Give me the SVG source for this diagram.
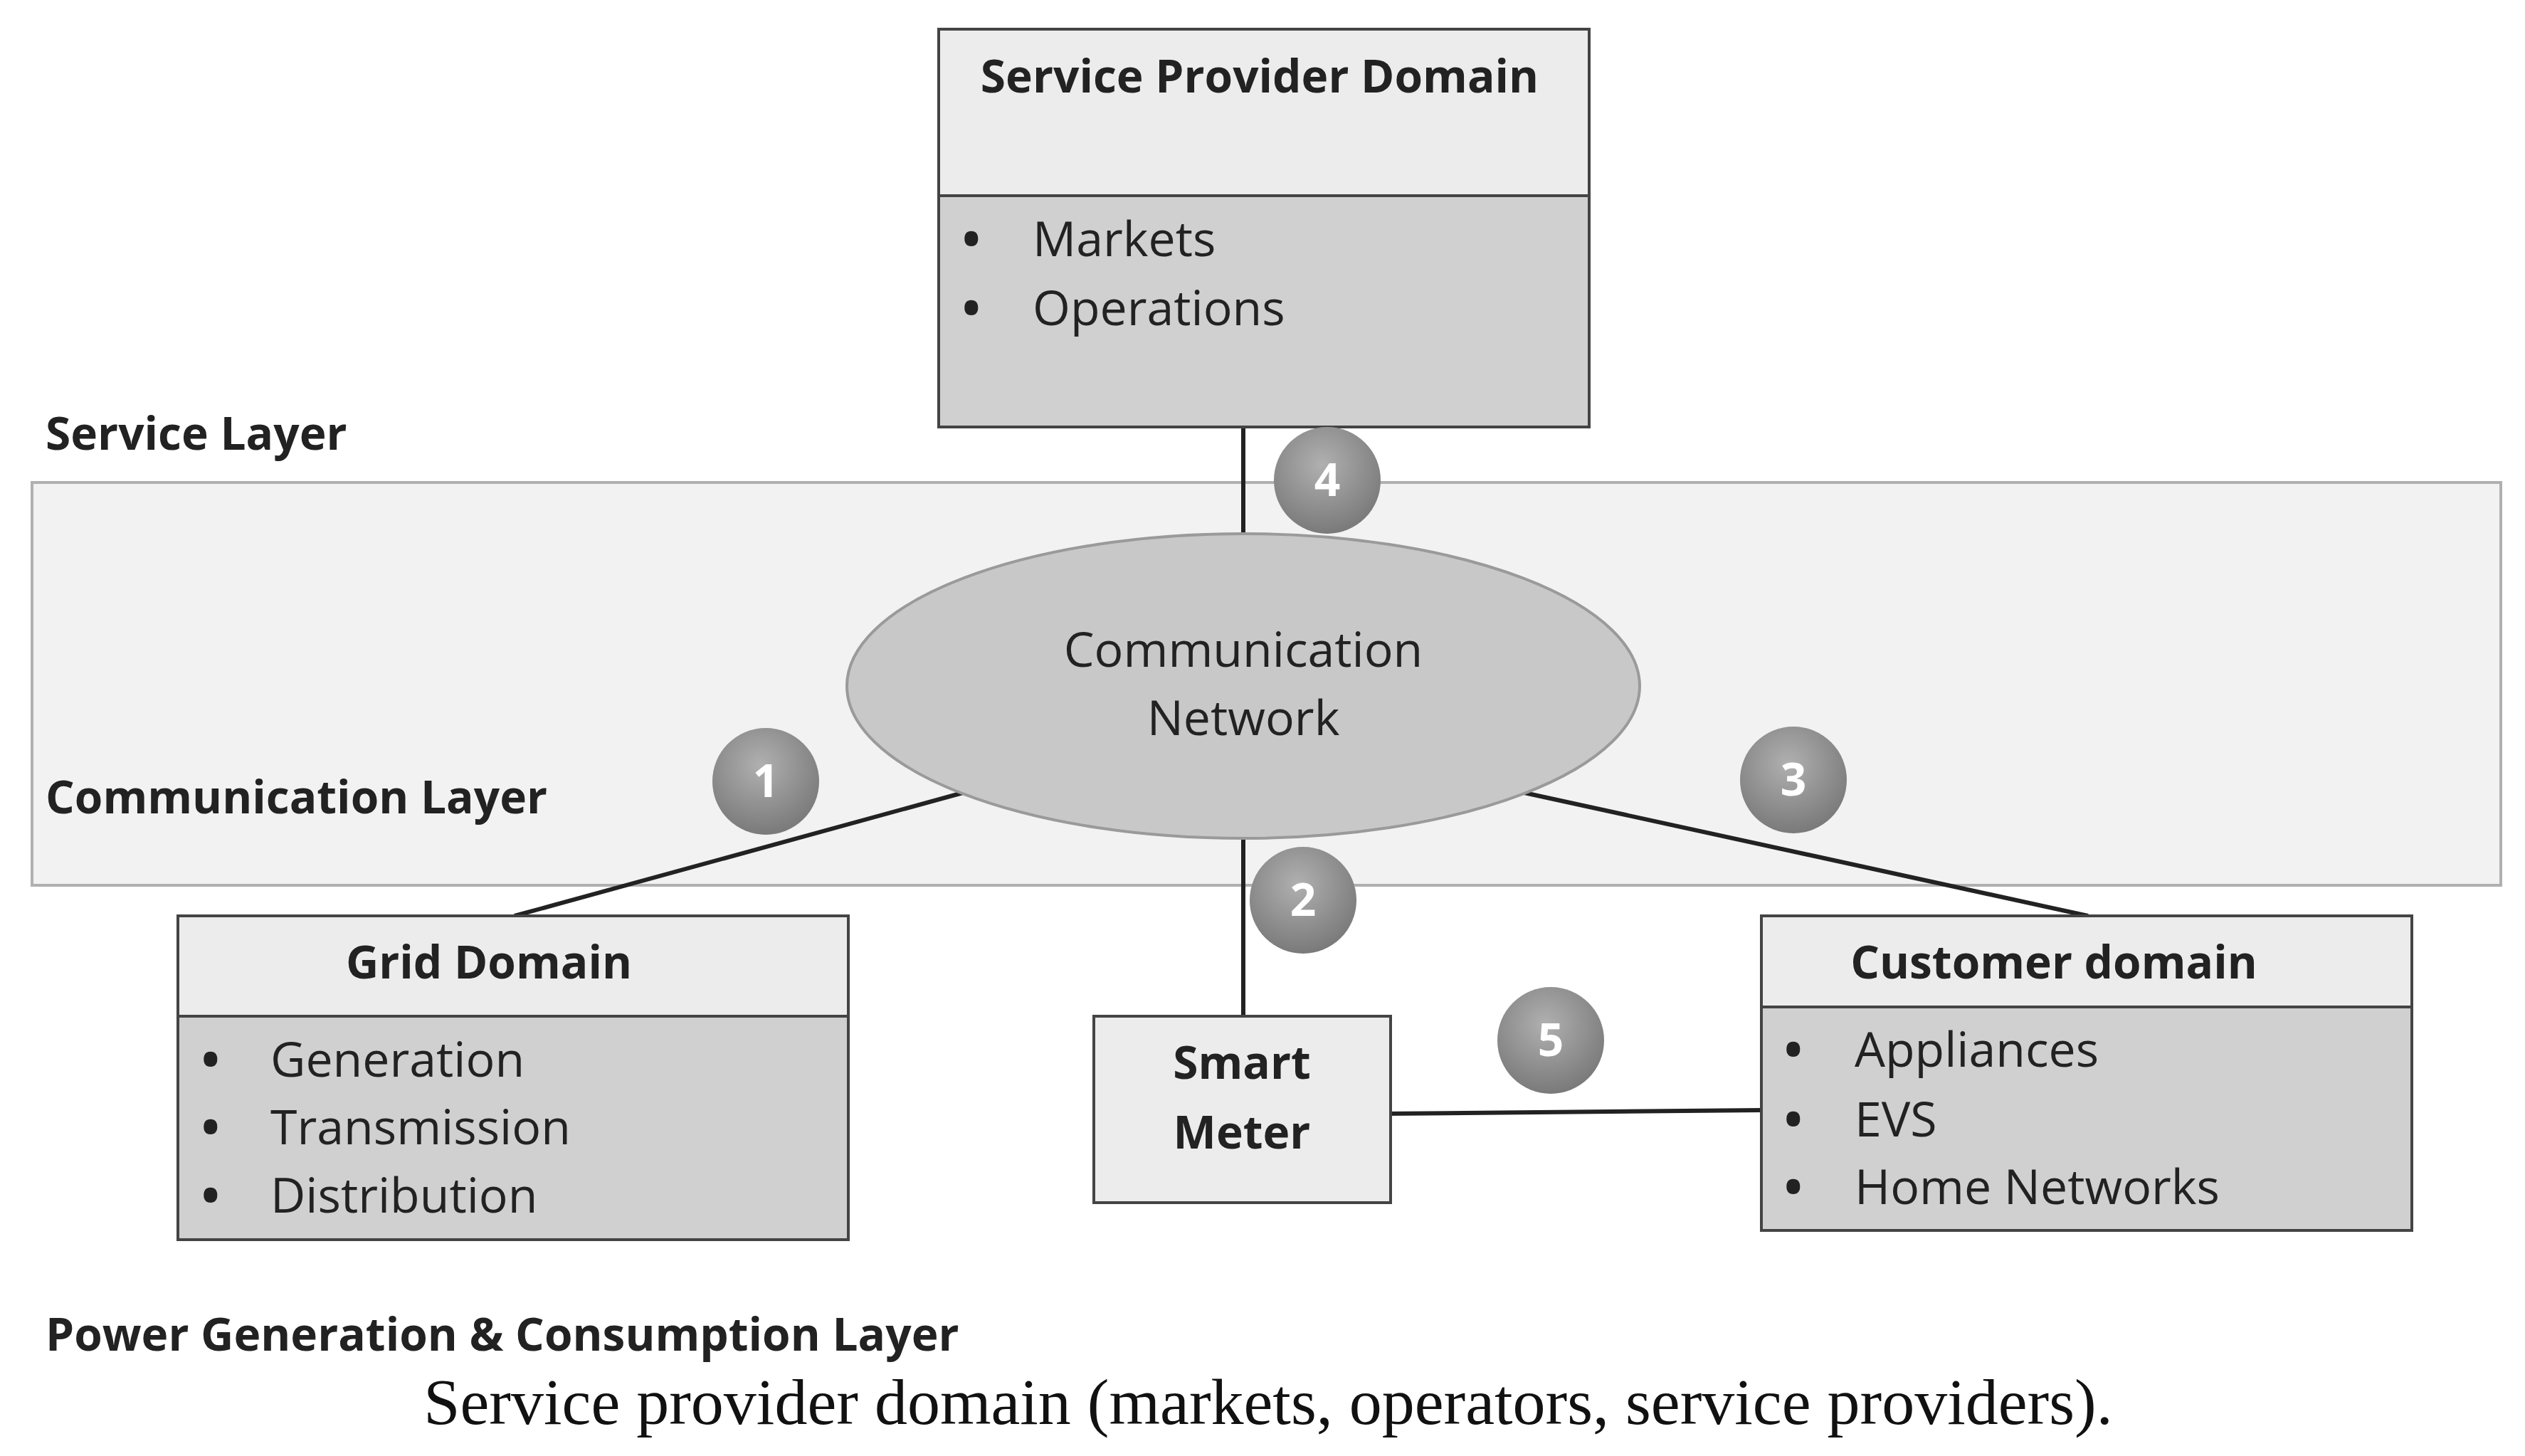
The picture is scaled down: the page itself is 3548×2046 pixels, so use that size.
<svg xmlns="http://www.w3.org/2000/svg" width="3548" height="2046" viewBox="0 0 3548 2046">
<style>
.hd{fill:#ececec;stroke:#444;stroke-width:4}
.bd{fill:#d0d0d0;stroke:#444;stroke-width:4}
.t{font-family:"Open Sans",sans-serif;font-size:68px;fill:#222}
.u{font-family:"Open Sans",sans-serif;font-size:68px;font-weight:bold;fill:#222}
.b{font-family:"Open Sans",sans-serif;font-size:64px;font-weight:bold;fill:#222}
.n{font-family:"Open Sans",sans-serif;font-size:64px;font-weight:bold;fill:#fff;text-anchor:middle}
.ln{stroke:#222;stroke-width:6;fill:none}
</style>
<defs>
<radialGradient id="g" cx="45%" cy="35%" r="65%"><stop offset="0" stop-color="#b0b0b0"/><stop offset="1" stop-color="#7a7a7a"/></radialGradient>
</defs>
<rect width="3548" height="2046" fill="#fff"/>
<rect x="45" y="678" width="3469" height="566" fill="#f2f2f2" stroke="#b0b0b0" stroke-width="4"/>
<g class="b"><text x="64" y="632">Service Layer</text><text x="64" y="1143">Communication Layer</text><text x="64" y="1898">Power Generation &amp; Consumption Layer</text></g>
<g id="connectors">
<line class="ln" x1="1747" y1="600" x2="1747" y2="751"/>
<line class="ln" x1="1353" y1="1114" x2="723" y2="1287"/>
<line class="ln" x1="2142" y1="1114" x2="2934" y2="1287"/>
<line class="ln" x1="1747" y1="1180" x2="1747" y2="1428"/>
<line class="ln" x1="1945" y1="1565" x2="2475" y2="1560"/>
</g>
<g id="sp">
<rect class="hd" x="1319" y="41" width="914" height="234"/>
<rect class="bd" x="1319" y="275" width="914" height="325"/>
<text class="b" x="1770" y="130" text-anchor="middle">Service Provider Domain</text>
<text class="u" x="1352" y="360">•</text><text class="t" x="1451" y="360">Markets</text>
<text class="u" x="1352" y="457">•</text><text class="t" x="1451" y="457">Operations</text>
</g>
<g id="comm">
<ellipse cx="1747" cy="964" rx="557" ry="214" fill="#c8c8c8" stroke="#9a9a9a" stroke-width="4"/>
<text class="t" x="1747" y="937" text-anchor="middle">Communication</text>
<text class="t" x="1747" y="1033" text-anchor="middle">Network</text>
</g>
<g id="grid">
<rect class="hd" x="250" y="1287" width="942" height="141"/>
<rect class="bd" x="250" y="1428" width="942" height="314"/>
<text class="b" x="687" y="1375" text-anchor="middle">Grid Domain</text>
<text class="u" x="283" y="1513">•</text><text class="t" x="380" y="1513">Generation</text>
<text class="u" x="283" y="1608">•</text><text class="t" x="380" y="1608">Transmission</text>
<text class="u" x="283" y="1704">•</text><text class="t" x="380" y="1704">Distribution</text>
</g>
<g id="meter">
<rect class="hd" x="1537" y="1428" width="417" height="262"/>
<text class="b" x="1745" y="1516" text-anchor="middle">Smart</text>
<text class="b" x="1745" y="1614" text-anchor="middle">Meter</text>
</g>
<g id="customer">
<rect class="hd" x="2475" y="1287" width="914" height="128"/>
<rect class="bd" x="2475" y="1415" width="914" height="314"/>
<text class="b" x="2886" y="1375" text-anchor="middle">Customer domain</text>
<text class="u" x="2507" y="1499">•</text><text class="t" x="2606" y="1499">Appliances</text>
<text class="u" x="2507" y="1597">•</text><text class="t" x="2606" y="1597">EVS</text>
<text class="u" x="2507" y="1692">•</text><text class="t" x="2606" y="1692">Home Networks</text>
</g>
<g id="badges">
<circle cx="1865" cy="675" r="75" fill="url(#g)"/><text class="n" x="1865" y="697">4</text>
<circle cx="1076" cy="1098" r="75" fill="url(#g)"/><text class="n" x="1076" y="1120">1</text>
<circle cx="2520" cy="1096" r="75" fill="url(#g)"/><text class="n" x="2520" y="1118">3</text>
<circle cx="1831" cy="1265" r="75" fill="url(#g)"/><text class="n" x="1831" y="1287">2</text>
<circle cx="2179" cy="1462" r="75" fill="url(#g)"/><text class="n" x="2179" y="1484">5</text>
</g>
<text x="1782" y="2001" text-anchor="middle" font-family="Liberation Serif, serif" font-size="92" fill="#111">Service provider domain (markets, operators, service providers).</text>
</svg>
